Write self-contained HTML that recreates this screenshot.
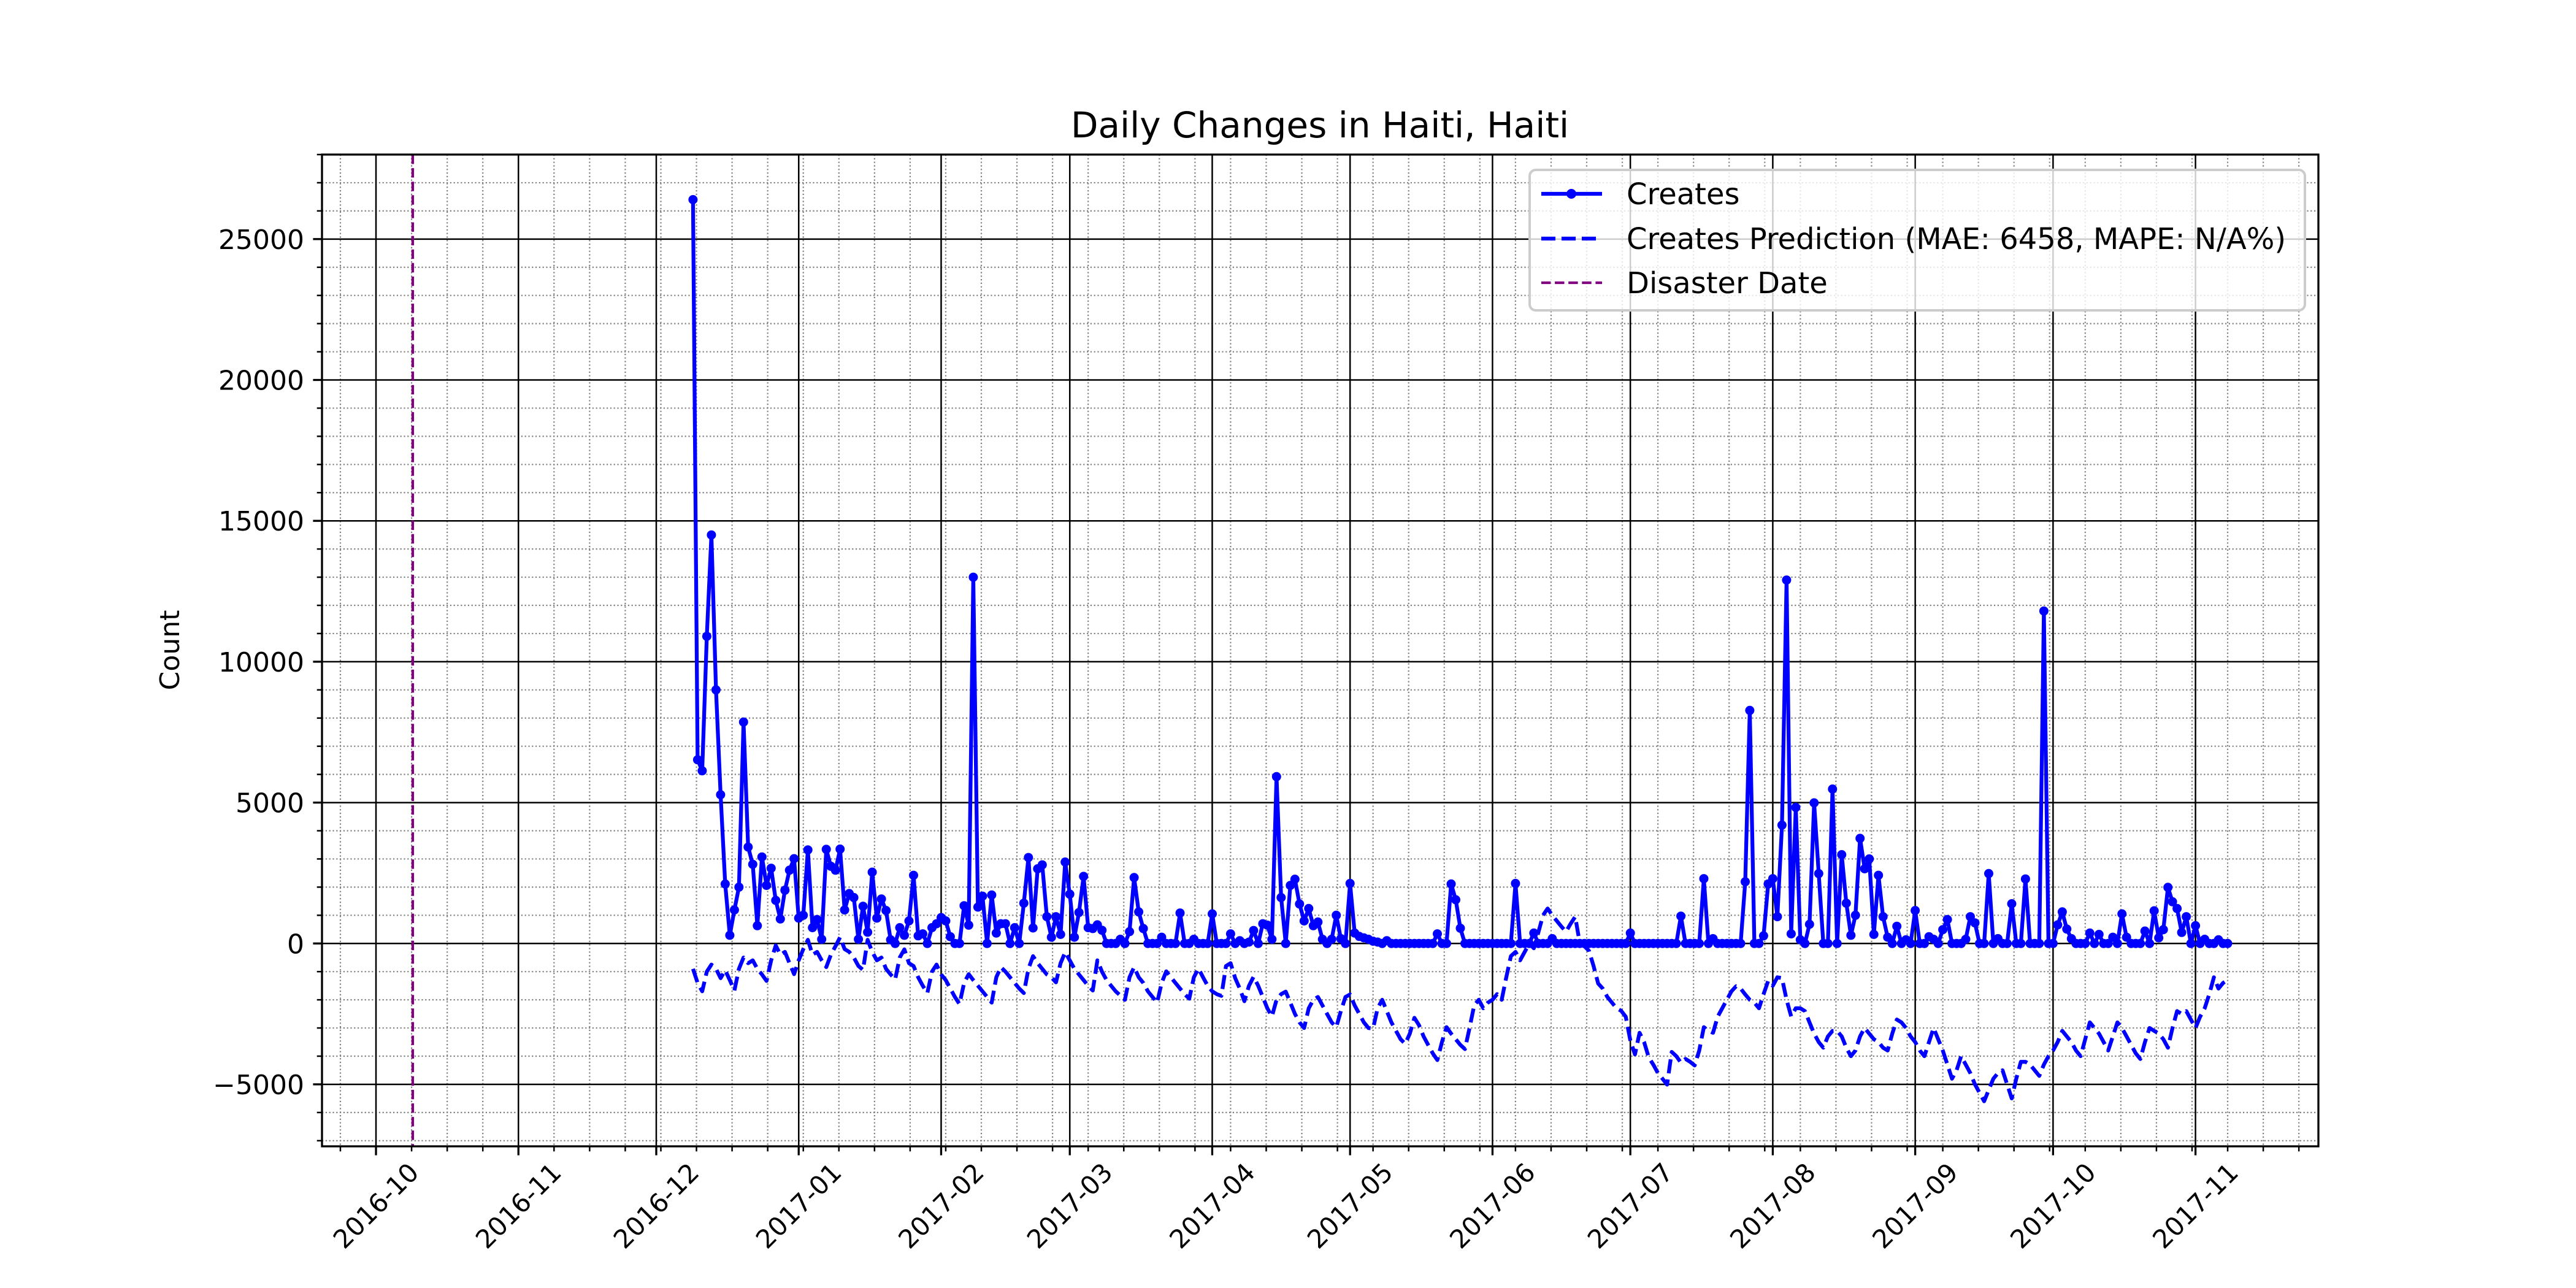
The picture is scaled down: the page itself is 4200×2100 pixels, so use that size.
<!DOCTYPE html>
<html><head><meta charset="utf-8"><style>
html,body{margin:0;padding:0;background:#fff;}
svg{display:block;font-family:"DejaVu Sans","Liberation Sans",sans-serif;}
</style></head><body>
<svg id="chart" xmlns="http://www.w3.org/2000/svg" width="4200" height="2100" viewBox="0 0 4200 2100">
<rect x="0" y="0" width="4200" height="2100" fill="#fff"/>
<g id="grid"></g>
<g id="series"></g>
<g id="axes"></g>
<text x="2152" y="224" text-anchor="middle" font-size="58">Daily Changes in Haiti, Haiti</text>
<text transform="translate(292,1060) rotate(-90)" text-anchor="middle" font-size="44">Count</text>
<g id="legend">
<rect x="2494" y="277" width="1264" height="229" rx="10" fill="#fff" fill-opacity="0.8" stroke="#cccccc" stroke-width="4"/>
<g>
<line x1="2513" y1="316" x2="2612" y2="316" stroke="#0000ff" stroke-width="6.25"/>
<circle cx="2562" cy="316" r="8" fill="#0000ff"/>
<text x="2652" y="333" font-size="48">Creates</text>
</g>
<g>
<line x1="2513" y1="389" x2="2612" y2="389" stroke="#0000ff" stroke-width="6.25" stroke-dasharray="23,10"/>
<text x="2652" y="406" font-size="48">Creates Prediction (MAE: 6458, MAPE: N/A%)</text>
</g>
<g>
<line x1="2513" y1="461" x2="2612" y2="461" stroke="#800080" stroke-width="4.2" stroke-dasharray="15.4,6.7"/>
<text x="2652" y="478" font-size="48">Disaster Date</text>
</g>
</g>
</svg>
<script>
// ---- data (daily, starting 2016-12-09) ----
const startDate = "2016-12-09";
const disasterDate = "2016-10-09";
const createsDec = [26400,6520,6130,10900,14500,9000,5280,2110,290,1190,2000,7860,3420,2810,630,3070,2060,2670,1530,870,1890,2600,3010];
const createsJan = [900,1000,3320,560,850,150,3340,2740,2600,3350,1190,1770,1630,150,1320,400,2530,900,1580,1170,130,0,560,290,800,2420,270,340,0,560,700];
const createsFeb = [920,800,240,0,0,1340,650,13000,1290,1680,0,1720,370,700,700,0,560,0,1430,3050,550,2650,2790,950,220,950,320,2890];
const createsMar = [1750,220,1100,2380,560,530,660,470,0,0,0,150,0,420,2340,1120,530,0,0,0,220,0,0,0,1080,0,0,150,0,0,0];
const createsApr = [1050,0,0,0,340,0,100,0,50,460,0,700,650,150,5920,1630,0,2060,2280,1400,800,1240,630,760,150,0,150,1000,170,0];
const createsMay = [2130,370,250,200,150,80,50,0,100,0,0,0,0,0,0,0,0,0,0,340,0,0,2110,1550,540,0,0,0,0,0,0];
const createsJun = [0,0,0,0,0,2130,0,0,0,370,0,0,0,170,0,0,0,0,0,0,0,0,0,0,0,0,0,0,0,0];
const createsJul = [370,0,0,0,0,0,0,0,0,0,0,970,0,0,0,0,2300,0,170,0,0,0,0,0,0,2190,8270,0,0,270,2110];
const createsAug = [2300,950,4200,12900,340,4830,130,0,680,4990,2480,0,0,5480,0,3150,1430,290,1000,3730,2650,3000,320,2420,950,220,0,610,0,130,0];
const createsSep = [1170,0,0,240,150,0,490,850,0,0,0,150,950,730,0,0,2480,0,170,0,0,1410,0,0,2290,0,0,0,11800,0];
const createsOct = [0,660,1120,510,170,0,0,0,370,0,320,0,0,220,0,1050,220,0,0,0,440,0,1160,200,490,1990,1480,1240,390,950,0];
const createsNov = [630,0,150,0,0,130,0,0];

const predDec = [-900,-1400,-1700,-1000,-750,-900,-1230,-950,-1300,-1670,-900,-500,-700,-600,-900,-1100,-1330,-600,-70,-400,-300,-700,-1090];
const predJan = [-600,-200,130,-400,-300,-600,-840,-400,-100,220,-200,-300,-500,-800,-940,130,-300,-600,-500,-900,-1100,-1280,-500,-210,-700,-800,-1200,-1500,-1760,-1000,-750];
const predFeb = [-1100,-1300,-1600,-1900,-2150,-1400,-1090,-1300,-1500,-1700,-1900,-2100,-1200,-840,-1000,-1200,-1400,-1600,-1760,-900,-450,-700,-900,-1100,-1200,-1380,-700,-310];
const predMar = [-600,-900,-1100,-1300,-1500,-1670,-600,-1000,-1300,-1500,-1700,-1850,-2000,-1200,-840,-1200,-1400,-1700,-1900,-2100,-1400,-990,-1200,-1400,-1600,-1800,-1960,-1200,-890,-1200,-1500];
const predApr = [-1700,-1800,-1860,-800,-700,-1230,-1600,-2050,-1500,-1180,-1500,-1900,-2300,-2590,-2000,-1800,-1710,-2100,-2500,-2800,-3000,-2300,-2000,-1900,-2200,-2500,-2800,-2970,-2400,-1900];
const predMay = [-1810,-2200,-2500,-2800,-3000,-3020,-2300,-2000,-2400,-2800,-3100,-3400,-3560,-3200,-2640,-2900,-3300,-3600,-3900,-4140,-3500,-2970,-3200,-3400,-3600,-3750,-3000,-2200,-2000,-2300,-2100];
const predJun = [-2000,-1800,-2000,-1200,-450,-300,-600,-300,0,-170,400,1000,1240,1000,800,600,420,700,950,0,-100,-260,-800,-1420,-1600,-1900,-2100,-2300,-2390,-2600];
const predJul = [-3450,-3940,-3170,-3500,-4040,-4300,-4600,-4800,-5010,-3850,-4000,-4230,-4100,-4200,-4330,-3800,-2970,-3100,-3170,-2600,-2300,-2000,-1700,-1520,-1600,-1810,-2000,-2100,-2300,-1800,-1330];
const predAug = [-1500,-1200,-1230,-2000,-2590,-2300,-2300,-2400,-2800,-3200,-3500,-3700,-3300,-3100,-3100,-3300,-3700,-4000,-3800,-3300,-3000,-3200,-3400,-3500,-3700,-3800,-3200,-2700,-2800,-3000,-3300];
const predSep = [-3500,-3800,-4000,-3500,-3000,-3400,-3800,-4300,-4800,-4500,-4000,-4300,-4600,-5000,-5300,-5600,-5200,-4800,-4600,-4500,-5000,-5500,-4800,-4200,-4200,-4300,-4500,-4700,-4300,-4000];
const predOct = [-3800,-3500,-3100,-3300,-3500,-3800,-4000,-3400,-2800,-3000,-3200,-3500,-3800,-3300,-2800,-3000,-3300,-3600,-3900,-4100,-3500,-3000,-3100,-3200,-3400,-3700,-3000,-2400,-2500,-2400,-2700];
const predNov = [-3000,-2600,-2300,-1800,-1200,-1600,-1400,-1300];

const yTicks = [-5000,0,5000,10000,15000,20000,25000];
const xTickLabels = ["2016-10","2016-11","2016-12","2017-01","2017-02","2017-03","2017-04","2017-05","2017-06","2017-07","2017-08","2017-09","2017-10","2017-11"];

const creates = [].concat(createsDec,createsJan,createsFeb,createsMar,createsApr,createsMay,createsJun,createsJul,createsAug,createsSep,createsOct,createsNov);
const pred = [].concat(predDec,predJan,predFeb,predMar,predApr,predMay,predJun,predJul,predAug,predSep,predOct,predNov);

// ---- axes geometry ----
const L=525,R=3780,T=252,B=1869;
const DAY=86400000;
const origin=Date.UTC(2016,9,1);
function dayOf(s){const p=s.split("-").map(Number);return (Date.UTC(p[0],p[1]-1,p[2]||1)-origin)/DAY;}
const d0=dayOf(startDate), dDis=dayOf(disasterDate);
const dLast=d0+creates.length-1;
const xspan=dLast-dDis, xmin=dDis-0.05*xspan, xmax=dLast+0.05*xspan;
const ymin=-7200, ymax=28000;
function X(d){return L+(d-xmin)/(xmax-xmin)*(R-L);}
function Y(v){return B-(v-ymin)/(ymax-ymin)*(B-T);}
const NS="http://www.w3.org/2000/svg";
function mk(tag,attrs,parent){const e=document.createElementNS(NS,tag);for(const k in attrs)e.setAttribute(k,attrs[k]);parent.appendChild(e);return e;}
const grid=document.getElementById("grid"),series=document.getElementById("series"),axes=document.getElementById("axes");

const majorDays=xTickLabels.map(dayOf);
const step=(majorDays[1]-majorDays[0])/4;
const minorDays=[];
for(let k=-10;k<80;k++){const d=majorDays[0]+k*step;if(d<xmin||d>xmax)continue;if(majorDays.some(m=>Math.abs(m-d)<0.3))continue;minorDays.push(d);}
const minorY=[];
for(let v=-7000;v<=28000;v+=1000){if(v%5000!==0)minorY.push(v);}

minorDays.forEach(d=>{const l=mk("line",{x1:X(d),x2:X(d),y1:T,y2:B,stroke:"#808080","stroke-width":2.2,"stroke-dasharray":"2.2,3.6"},grid);

});
minorY.forEach(v=>{const l=mk("line",{x1:L,x2:R,y1:Y(v),y2:Y(v),stroke:"#808080","stroke-width":2.2,"stroke-dasharray":"2.2,3.6"},grid);

});
majorDays.forEach(d=>{const l=mk("line",{x1:X(d),x2:X(d),y1:T,y2:B,stroke:"#000","stroke-width":2.5},grid);

});
yTicks.forEach(v=>{const l=mk("line",{x1:L,x2:R,y1:Y(v),y2:Y(v),stroke:"#000","stroke-width":2.5},grid);

});

const dl=mk("line",{x1:X(dDis),x2:X(dDis),y1:T,y2:B,stroke:"#800080","stroke-width":4.2,"stroke-dasharray":"15.4,6.7"},series);



let pp="";pred.forEach((v,i)=>{pp+=(i?"L":"M")+X(d0+i).toFixed(1)+","+Y(v).toFixed(1);});
const pl=mk("path",{d:pp,fill:"none",stroke:"#0000ff","stroke-width":6.25,"stroke-dasharray":"23,10","stroke-linejoin":"round"},series);



let cp="";creates.forEach((v,i)=>{cp+=(i?"L":"M")+X(d0+i).toFixed(1)+","+Y(v).toFixed(1);});
const cl=mk("path",{d:cp,fill:"none",stroke:"#0000ff","stroke-width":6.25,"stroke-linejoin":"round"},series);


creates.forEach((v,i)=>{const c=mk("circle",{cx:X(d0+i).toFixed(1),cy:Y(v).toFixed(1),r:7.5,fill:"#0000ff"},series);

});

const sp=mk("rect",{x:L,y:T,width:R-L,height:B-T,fill:"none",stroke:"#000","stroke-width":3.3},axes);



majorDays.forEach((d,i)=>{const t=mk("line",{x1:X(d),x2:X(d),y1:B,y2:B+14.6,stroke:"#000","stroke-width":3.3},axes);


const tx=mk("text",{transform:"translate("+X(d).toFixed(1)+",1966) rotate(-45)","text-anchor":"middle","dominant-baseline":"central","font-size":42},axes);
tx.textContent=xTickLabels[i];

});
minorDays.forEach(d=>{const t=mk("line",{x1:X(d),x2:X(d),y1:B,y2:B+8.3,stroke:"#000","stroke-width":2.5},axes);

});
yTicks.forEach(v=>{const t=mk("line",{x1:L-14.6,x2:L,y1:Y(v),y2:Y(v),stroke:"#000","stroke-width":3.3},axes);


const tx=mk("text",{x:L-29,y:Y(v)+16,"text-anchor":"end","font-size":44},axes);
tx.textContent=v<0?"\u2212"+Math.abs(v):String(v);

});
minorY.forEach(v=>{const t=mk("line",{x1:L-8.3,x2:L,y1:Y(v),y2:Y(v),stroke:"#000","stroke-width":2.5},axes);

});
</script>
</body></html>
